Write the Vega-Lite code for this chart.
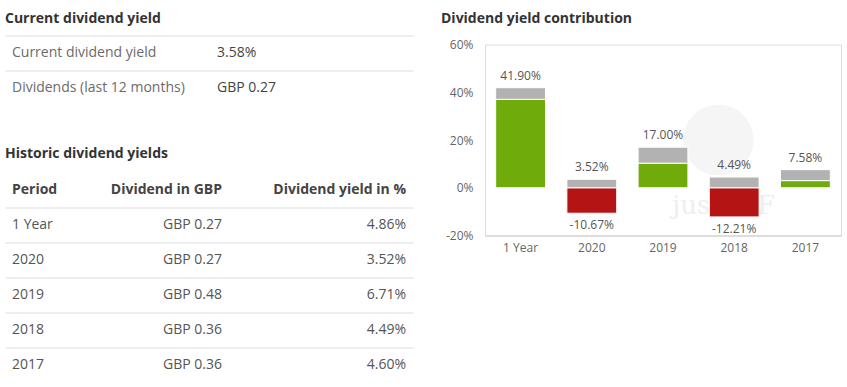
{
  "$schema": "https://vega.github.io/schema/vega-lite/v6.json",
  "background": "white",
  "padding": {"left": 5, "top": 11.5, "right": 0, "bottom": 0},
  "config": {
    "font": "Open Sans",
    "view": {"stroke": null},
    "locale": {"number": {"decimal": ".", "thousands": ",", "grouping": [3], "currency": ["$", ""], "minus": "-"}},
    "title": {"font": "Open Sans", "fontSize": 14, "fontWeight": "bold", "color": "#333333", "anchor": "start", "frame": "bounds"},
    "axis": {"labelFont": "Open Sans"}
  },
  "datasets": {
    "current": [
      {"row": "r1", "col": "label", "text": "Current dividend yield"},
      {"row": "r1", "col": "value", "text": "3.58%"},
      {"row": "r2", "col": "label", "text": "Dividends (last 12 months)"},
      {"row": "r2", "col": "value", "text": "GBP 0.27"}
    ],
    "historic": [
      {"row": "Header", "col": "c1", "text": "Period"},
      {"row": "Header", "col": "c2", "text": "Dividend in GBP"},
      {"row": "Header", "col": "c3", "text": "Dividend yield in %"},
      {"row": "1 Year", "col": "c1", "text": "1 Year"},
      {"row": "1 Year", "col": "c2", "text": "GBP 0.27"},
      {"row": "1 Year", "col": "c3", "text": "4.86%"},
      {"row": "2020", "col": "c1", "text": "2020"},
      {"row": "2020", "col": "c2", "text": "GBP 0.27"},
      {"row": "2020", "col": "c3", "text": "3.52%"},
      {"row": "2019", "col": "c1", "text": "2019"},
      {"row": "2019", "col": "c2", "text": "GBP 0.48"},
      {"row": "2019", "col": "c3", "text": "6.71%"},
      {"row": "2018", "col": "c1", "text": "2018"},
      {"row": "2018", "col": "c2", "text": "GBP 0.36"},
      {"row": "2018", "col": "c3", "text": "4.49%"},
      {"row": "2017", "col": "c1", "text": "2017"},
      {"row": "2017", "col": "c2", "text": "GBP 0.36"},
      {"row": "2017", "col": "c3", "text": "4.60%"}
    ],
    "contribution": [
      {"period": "1 Year", "series": "Price", "value": 0.3704},
      {"period": "1 Year", "series": "Dividend", "value": 0.0486},
      {"period": "2020", "series": "Price", "value": -0.1067},
      {"period": "2020", "series": "Dividend", "value": 0.0352},
      {"period": "2019", "series": "Price", "value": 0.1029},
      {"period": "2019", "series": "Dividend", "value": 0.0671},
      {"period": "2018", "series": "Price", "value": -0.1221},
      {"period": "2018", "series": "Dividend", "value": 0.0449},
      {"period": "2017", "series": "Price", "value": 0.0298},
      {"period": "2017", "series": "Dividend", "value": 0.046}
    ]
  },
  "spacing": 28,
  "hconcat": [
    {
      "spacing": 41,
      "vconcat": [
        {
          "title": {"text": "Current dividend yield", "offset": 10},
          "width": 408,
          "height": 70,
          "data": {"name": "current"},
          "mark": {"type": "text", "align": "left", "baseline": "middle", "fontSize": 14},
          "encoding": {
            "y": {"field": "row", "type": "ordinal", "sort": null,
                  "scale": {"type": "band", "paddingInner": 0, "paddingOuter": 0},
                  "axis": {"title": null, "labels": false, "ticks": false, "domain": false, "grid": true, "gridColor": "#dddddd", "bandPosition": 0}},
            "x": {"field": "col", "type": "ordinal", "sort": null, "bandPosition": 0,
                  "scale": {"type": "band", "domain": ["label", "value"], "paddingInner": 0.078, "paddingOuter": 0.034},
                  "axis": null},
            "text": {"field": "text"},
            "color": {"condition": {"test": "datum.col === 'value'", "value": "#444444"}, "value": "#6b6b6b"}
          }
        },
        {
          "title": {"text": "Historic dividend yields", "offset": 12},
          "width": 408,
          "height": 210,
          "data": {"name": "historic"},
          "encoding": {
            "y": {"field": "row", "type": "ordinal", "sort": null,
                  "scale": {"type": "band", "domain": ["Header", "1 Year", "2020", "2019", "2018", "2017"], "paddingInner": 0, "paddingOuter": 0},
                  "axis": {"title": null, "labels": false, "ticks": false, "domain": false, "grid": true, "gridColor": "#dddddd", "bandPosition": 0, "values": ["1 Year", "2020", "2019", "2018", "2017"]}},
            "text": {"field": "text"}
          },
          "layer": [
            {
              "transform": [{"filter": "datum.row === 'Header' && datum.col === 'c1'"}],
              "mark": {"type": "text", "align": "left", "baseline": "middle", "fontSize": 14, "fontWeight": "bold", "color": "#444444"},
              "encoding": {"x": {"field": "col", "type": "ordinal", "bandPosition": 0, "scale": {"type": "band", "domain": ["c1", "c2", "c3"], "paddingInner": 0.859, "paddingOuter": 0.038}, "axis": null}}
            },
            {
              "transform": [{"filter": "datum.row === 'Header' && datum.col !== 'c1'"}],
              "mark": {"type": "text", "align": "right", "baseline": "middle", "fontSize": 14, "fontWeight": "bold", "color": "#444444"},
              "encoding": {"x": {"field": "col", "type": "ordinal", "bandPosition": 1, "axis": null}}
            },
            {
              "transform": [{"filter": "datum.row !== 'Header' && datum.col === 'c1'"}],
              "mark": {"type": "text", "align": "left", "baseline": "middle", "fontSize": 14, "color": "#555555"},
              "encoding": {"x": {"field": "col", "type": "ordinal", "bandPosition": 0, "axis": null}}
            },
            {
              "transform": [{"filter": "datum.row !== 'Header' && datum.col !== 'c1'"}],
              "mark": {"type": "text", "align": "right", "baseline": "middle", "fontSize": 14, "color": "#555555"},
              "encoding": {"x": {"field": "col", "type": "ordinal", "bandPosition": 1, "axis": null}}
            }
          ]
        }
      ]
    },
    {
      "spacing": 1,
      "vconcat": [
        {
          "title": {"text": "Dividend yield contribution", "offset": 10, "dx": -44},
          "width": 356,
          "height": 1,
          "data": {"values": []},
          "mark": "point",
          "encoding": {}
        },
        {
          "width": 356,
          "height": 191,
          "view": {"stroke": "#dddddd"},
          "data": {"name": "contribution"},
          "encoding": {
            "x": {"field": "period", "type": "nominal", "sort": null,
                  "scale": {"domain": ["1 Year", "2020", "2019", "2018", "2017"], "paddingInner": 0.3, "paddingOuter": 0.15},
                  "axis": {"title": null, "labelAngle": 0, "ticks": false, "domainColor": "#cccccc", "labelColor": "#666666", "labelFontSize": 12, "labelPadding": 7}}
          },
          "layer": [
            {
              "data": {"values": [{"mark": "logo"}]},
              "mark": {"type": "point", "filled": true, "shape": "circle", "size": 5000, "color": "#eeeeee", "opacity": 0.6},
              "encoding": {
                "x": {"datum": "2018"},
                "xOffset": {"value": 9},
                "y": {"datum": 0.2}
              }
            },
            {
              "data": {"values": [{"mark": "just"}]},
              "mark": {"type": "text", "text": "justETF", "font": "DejaVu Serif", "fontSize": 26, "color": "#eeeeee", "align": "left", "baseline": "alphabetic", "dx": -62},
              "encoding": {
                "x": {"datum": "2018"},
                "y": {"datum": -0.11}
              }
            },
            {
              "mark": {"type": "bar", "stroke": "white", "strokeWidth": 1},
              "encoding": {
                "y": {"field": "value", "type": "quantitative", "stack": "zero",
                      "scale": {"domain": [-0.2, 0.6], "nice": false, "zero": false},
                      "axis": {"title": null, "format": ".0%", "values": [-0.2, 0, 0.2, 0.4, 0.6], "domain": false, "ticks": false, "gridColor": "#e6e6e6", "labelColor": "#666666", "labelFontSize": 12, "labelPadding": 12}},
                "order": {"field": "series", "sort": "descending"},
                "color": {
                  "condition": [
                    {"test": "datum.series === 'Dividend'", "value": "#b2b2b2"},
                    {"test": "datum.value < 0", "value": "#b41414"}
                  ],
                  "value": "#6fab0a"
                }
              }
            },
            {
              "transform": [{"filter": "datum.value > 0"}],
              "mark": {"type": "text", "baseline": "middle", "dy": -12, "fontSize": 12, "color": "#555555"},
              "encoding": {
                "y": {"aggregate": "sum", "field": "value", "type": "quantitative"},
                "text": {"aggregate": "sum", "field": "value", "type": "quantitative", "format": ".2%"}
              }
            },
            {
              "transform": [{"filter": "datum.value < 0"}],
              "mark": {"type": "text", "baseline": "middle", "dy": 12, "fontSize": 12, "color": "#555555"},
              "encoding": {
                "y": {"aggregate": "sum", "field": "value", "type": "quantitative"},
                "text": {"aggregate": "sum", "field": "value", "type": "quantitative", "format": ".2%"}
              }
            }
          ]
        }
      ]
    }
  ]
}
